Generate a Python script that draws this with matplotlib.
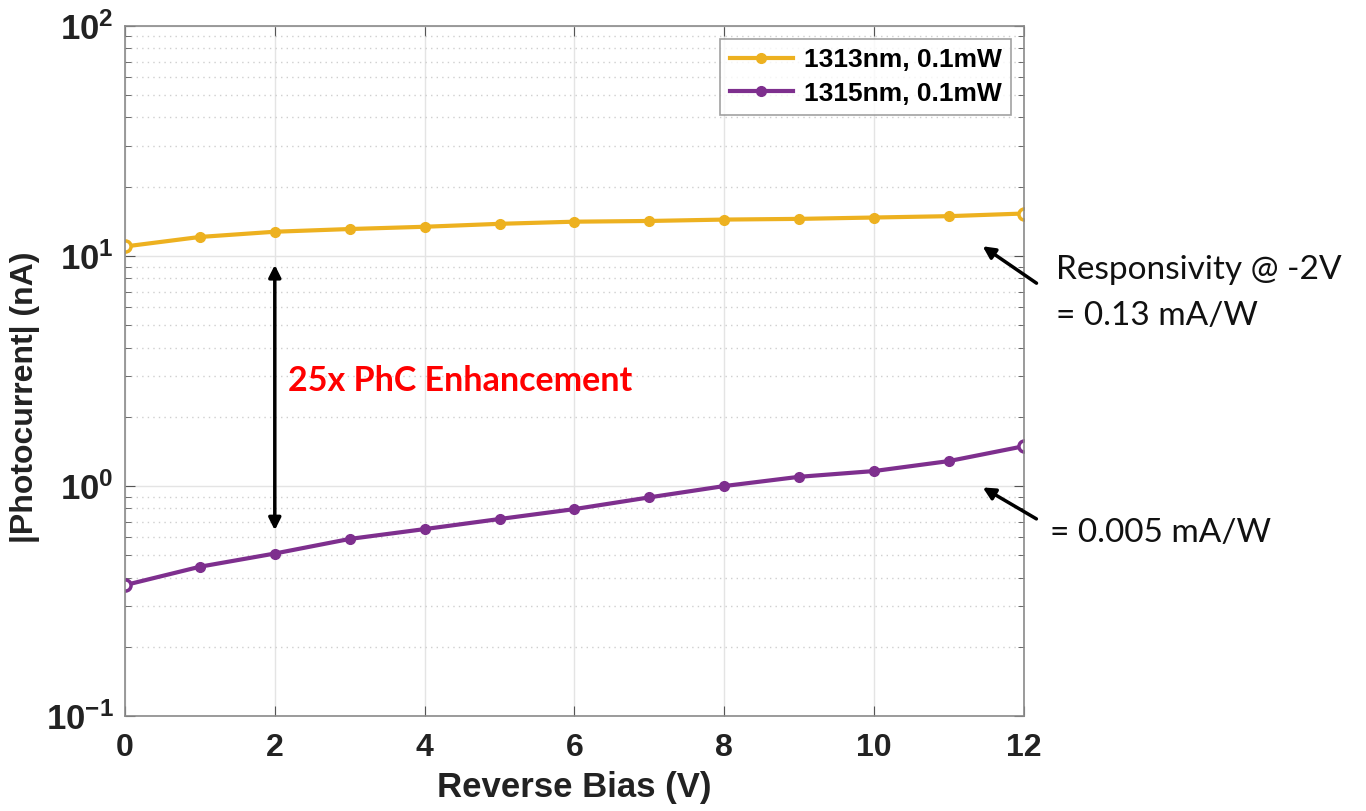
import matplotlib.pyplot as plt
from matplotlib.ticker import FixedLocator, NullFormatter

# data
bias = [0, 1, 2, 3, 4, 5, 6, 7, 8, 9, 10, 11, 12]
i_1313 = [11.0, 12.1, 12.75, 13.1, 13.4, 13.8, 14.1, 14.2, 14.4, 14.5, 14.7, 14.9, 15.3]
i_1315 = [0.371, 0.446, 0.509, 0.589, 0.650, 0.719, 0.794, 0.893, 1.0, 1.097, 1.162, 1.284, 1.49]
labels = ["1313nm, 0.1mW", "1315nm, 0.1mW"]
colors = ["#EDB120", "#7E2F8E"]

x_ticks = [0, 2, 4, 6, 8, 10, 12]
y_ticks = [0.1, 1, 10, 100]
y_ticklabels = [r"$\mathbf{10^{-1}}$", r"$\mathbf{10^{0}}$", r"$\mathbf{10^{1}}$", r"$\mathbf{10^{2}}$"]

plt.rcParams["font.family"] = ["Liberation Sans", "DejaVu Sans"]
plt.rcParams["mathtext.fontset"] = "custom"
plt.rcParams["mathtext.bf"] = "Liberation Sans:bold"
plt.rcParams["mathtext.rm"] = "Liberation Sans"

fig = plt.figure(figsize=(13.66, 8.11), dpi=100)
ax = fig.add_axes([0.0915, 0.117, 0.658, 0.851])

for ys, lab, c in zip([i_1313, i_1315], labels, colors):
    ax.plot(bias, ys, "-o", color=c, lw=3, ms=7, label=lab,
            markevery=list(range(1, len(bias) - 1)))
    ax.plot([bias[0], bias[-1]], [ys[0], ys[-1]], "o", color=c, ms=8,
            mfc="white", mew=2.5)

ax.set_yscale("log")
ax.set_xlim(0, 12)
ax.set_ylim(0.1, 100)
ax.xaxis.set_major_locator(FixedLocator(x_ticks))
ax.yaxis.set_major_locator(FixedLocator(y_ticks))
ax.set_yticklabels(y_ticklabels)
ax.yaxis.set_minor_formatter(NullFormatter())

ax.grid(True, which="major", color="#e4e4e4", lw=1)
ax.grid(True, which="minor", axis="y", color="#cfcfcf", lw=1, ls=(0, (1, 3)))
ax.set_axisbelow(True)

for s in ax.spines.values():
    s.set_color("#8a8a8a")
    s.set_linewidth(1.2)
ax.tick_params(which="both", direction="in", top=True, right=True, colors="#555555",
               labelcolor="#222222")
ax.tick_params(which="major", length=7)
ax.tick_params(axis="x", which="major", labelsize=23, pad=12)
ax.tick_params(axis="y", which="major", labelsize=25, pad=8)
ax.tick_params(which="minor", length=4)
for t in ax.get_xticklabels():
    t.set_fontweight("bold")

ax.set_xlabel("Reverse Bias (V)", fontsize=25, fontweight="bold", color="#222222", labelpad=6)
ax.set_ylabel("|Photocurrent| (nA)", fontsize=23, fontweight="bold", color="#222222")
ax.yaxis.set_label_coords(-0.094, 0.462)

leg = ax.legend(loc="upper right", prop={"weight": "bold", "size": 19},
                frameon=True, fancybox=False, edgecolor="#8a8a8a", handlelength=2.4,
                borderaxespad=0.5, borderpad=0.35, labelspacing=0.35, handletextpad=0.4)
leg.get_frame().set_linewidth(1.2)

# enhancement arrow
ax.annotate("", xy=(2, 0.625), xytext=(2, 9.4),
            arrowprops=dict(arrowstyle="<|-|>", color="black", lw=2.5, mutation_scale=18))
ax.text(2.17, 2.85, "25x PhC Enhancement", color="#ff0000", fontsize=24.5,
        fontweight="bold", family=["Lato", "DejaVu Sans"], va="center", ha="left")

# responsivity notes
ax.annotate("", xy=(11.42, 11.2), xytext=(12.2, 7.5), annotation_clip=False,
            arrowprops=dict(arrowstyle="-|>", color="black", lw=2.5, mutation_scale=18))
ax.annotate("", xy=(11.42, 1.0), xytext=(12.2, 0.71), annotation_clip=False,
            arrowprops=dict(arrowstyle="-|>", color="black", lw=2.5, mutation_scale=18))
note_font = ["Lato", "DejaVu Sans"]
fig.text(1056 / 1366, 1 - 270 / 811, "Responsivity @ -2V", fontsize=24,
         family=note_font, va="center", ha="left", color="#111111")
fig.text(1056 / 1366, 1 - 316 / 811, "= 0.13 mA/W", fontsize=24,
         family=note_font, va="center", ha="left", color="#111111")
fig.text(1050 / 1366, 1 - 533 / 811, "= 0.005 mA/W", fontsize=24,
         family=note_font, va="center", ha="left", color="#111111")

fig.savefig("out.png", dpi=100)
